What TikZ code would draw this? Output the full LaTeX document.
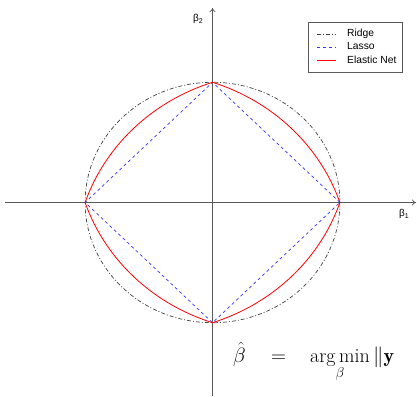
\documentclass[tikz,border=0pt]{standalone}
\usepackage{fontspec}
\setsansfont{Liberation Sans}
\usetikzlibrary{arrows.meta}
\definecolor{axisgray}{RGB}{90,90,90}
\tikzset{
  axisline/.style={draw=axisgray, line width=0.7pt, -{To[length=4pt,width=6pt]}},
  ridgeline/.style={draw=black!75, line width=0.7pt, dash pattern=on 4pt off 2pt on 1pt off 2pt},
  lassoline/.style={draw=blue!80, line width=0.7pt, dash pattern=on 3pt off 3pt},
  enetline/.style={draw=red, line width=0.8pt},
  legtext/.style={font=\sffamily\fontsize{10.3}{12}\selectfont, anchor=west, inner sep=0pt},
  axlabel/.style={font=\sffamily\fontsize{10}{12}\selectfont, inner sep=0pt},
  formula/.style={font=\fontsize{20}{23}\selectfont, anchor=base west, inner sep=0pt}
}
\begin{document}
\begin{tikzpicture}[x=1pt,y=1pt]
\useasboundingbox (0,0) rectangle (417,396);
\coordinate (O) at (212.5,193.5);
\coordinate (xl) at (5,193.5);
\coordinate (xr) at (416,193.5);
\coordinate (yb) at (212.5,0);
\coordinate (yt) at (212.5,388);
% axes
\draw[axisline] (xl) -- (xr);
\draw[axisline] (yb) -- (yt);
\node[axlabel] (b2) at (198,377) {β\raisebox{-0.35ex}{\fontsize{7}{8}\selectfont 2}};
\node[axlabel] (b1) at (404,182) {β\raisebox{-0.35ex}{\fontsize{7}{8}\selectfont 1}};
% constraint regions
\begin{scope}[shift={(O)}, xscale=127.4, yscale=120.2]
  \draw[ridgeline] (0,0) circle [radius=1];
  \draw[lassoline] (1,0) -- (0,1) -- (-1,0) -- (0,-1) -- cycle;
  \draw[enetline] (1,0) arc[start angle=18.435, end angle=71.565, radius=1.5811]
     arc[start angle=108.435, end angle=161.565, radius=1.5811]
     arc[start angle=198.435, end angle=251.565, radius=1.5811]
     arc[start angle=288.435, end angle=341.565, radius=1.5811] -- cycle;
\end{scope}
% legend
\draw[draw=axisgray, line width=0.7pt] (308,324) rectangle (402,374);
\coordinate (l1a) at (317,362); \coordinate (l1b) at (336,362);
\coordinate (l2a) at (317,349); \coordinate (l2b) at (336,349);
\coordinate (l3a) at (317,336); \coordinate (l3b) at (336,336);
\draw[ridgeline] (l1a) -- (l1b);
\draw[lassoline] (l2a) -- (l2b);
\draw[enetline] (l3a) -- (l3b);
\node[legtext] (t1) at (347,362.5) {Ridge};
\node[legtext] (t2) at (347,349.5) {Lasso};
\node[legtext] (t3) at (347,336.5) {Elastic Net};
% formula
\node[formula] (fb) at (233,34) {$\hat{\beta}$};
\node[formula] (fe) at (271,34) {$=$};
\node[formula] (fa) at (310,34) {$\displaystyle\mathop{\arg\min}_{\beta}\|\mathbf{y}$};
\end{tikzpicture}
\end{document}
